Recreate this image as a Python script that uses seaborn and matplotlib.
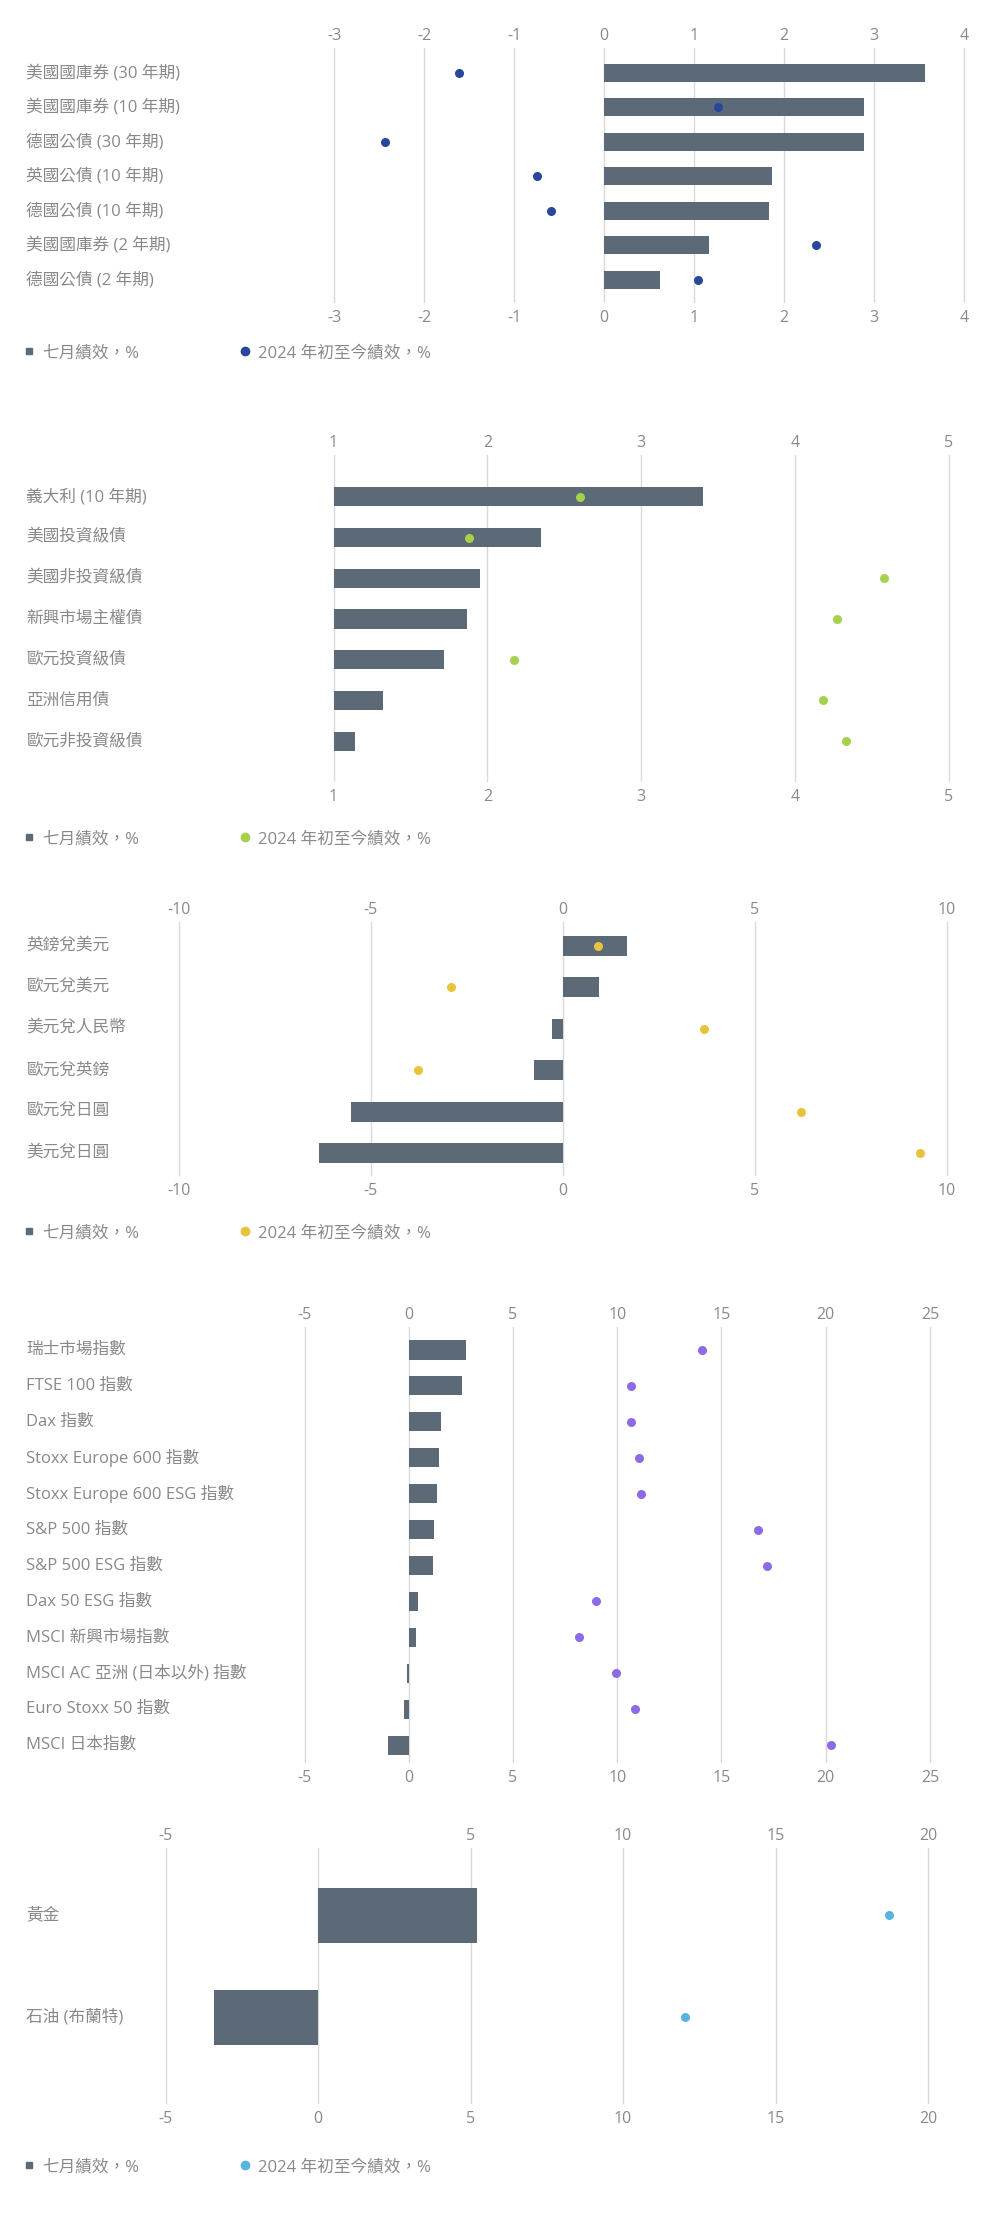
import matplotlib
matplotlib.use("Agg")
import matplotlib.pyplot as plt
from matplotlib.lines import Line2D
from matplotlib.transforms import blended_transform_factory
import seaborn as sns

# ─── Data ─────────────────────────────────────────────────────────────────────
gov_cats = ["美國國庫券 (30 年期)", "美國國庫券 (10 年期)", "德國公債 (30 年期)",
            "英國公債 (10 年期)", "德國公債 (10 年期)", "美國國庫券 (2 年期)",
            "德國公債 (2 年期)"]
gov_july = [3.57, 2.89, 2.89, 1.87, 1.83, 1.17, 0.62]
gov_ytd = [-1.61, 1.27, -2.43, -0.74, -0.59, 2.35, 1.04]
gov_ticks = [-3, -2, -1, 0, 1, 2, 3, 4]

credit_cats = ["義大利 (10 年期)", "美國投資級債", "美國非投資級債", "新興市場主權債",
               "歐元投資級債", "亞洲信用債", "歐元非投資級債"]
credit_july = [3.40, 2.35, 1.95, 1.87, 1.72, 1.32, 1.14]
credit_ytd = [2.60, 1.88, 4.58, 4.27, 2.17, 4.18, 4.33]
credit_ticks = [1, 2, 3, 4, 5]

fx_cats = ["英鎊兌美元", "歐元兌美元", "美元兌人民幣", "歐元兌英鎊", "歐元兌日圓", "美元兌日圓"]
fx_july = [1.66, 0.94, -0.28, -0.75, -5.52, -6.35]
fx_ytd = [0.91, -2.92, 3.68, -3.78, 6.21, 9.30]
fx_ticks = [-10, -5, 0, 5, 10]

eq_cats = ["瑞士市場指數", "FTSE 100 指數", "Dax 指數", "Stoxx Europe 600 指數",
           "Stoxx Europe 600 ESG 指數", "S&P 500 指數", "S&P 500 ESG 指數",
           "Dax 50 ESG 指數", "MSCI 新興市場指數", "MSCI AC 亞洲 (日本以外) 指數",
           "Euro Stoxx 50 指數", "MSCI 日本指數"]
eq_july = [2.75, 2.54, 1.53, 1.44, 1.34, 1.22, 1.16, 0.43, 0.37, -0.06, -0.25, -0.98]
eq_ytd = [14.05, 10.66, 10.66, 11.06, 11.12, 16.77, 17.17, 8.98, 8.16, 9.93, 10.85, 20.26]
eq_ticks = [-5, 0, 5, 10, 15, 20, 25]

cmd_cats = ["黃金", "石油 (布蘭特)"]
cmd_july = [5.21, -3.40]
cmd_ytd = [18.73, 12.04]
cmd_ticks = [-5, 0, 5, 10, 15, 20]
cmd_top_labels = ["-5", "", "5", "10", "15", "20"]

legend_labels = ["七月績效，%", "2024 年初至今績效，%"]

# ─── Style ────────────────────────────────────────────────────────────────────
sns.set_style("white")
plt.rcParams["font.family"] = ["Open Sans", "Noto Sans CJK TC", "DejaVu Sans"]
plt.rcParams["axes.unicode_minus"] = False

BAR = "#5b6a76"
TXT = "#898989"
GRID = "#d9d9d9"
W, H = 1000, 2213

fig = plt.figure(figsize=(W / 100, H / 100), dpi=100)


def panel(box, cats, july, ytd, ticks, dot_color, ylim, bar_w, top_labels=None, legend_y=None):
    l, t, r, b = box
    ax = fig.add_axes([l / W, 1 - b / H, (r - l) / W, (b - t) / H])
    sns.barplot(x=july, y=cats, orient="h", color=BAR, saturation=1,
                width=bar_w, errorbar=None, linewidth=0, ax=ax)
    sns.stripplot(x=ytd, y=cats, orient="h", jitter=False, color=dot_color,
                  size=6.5, linewidth=0, zorder=3, ax=ax)
    ax.set_xlim(ticks[0], ticks[-1])
    ax.set_ylim(*ylim)
    labels = [str(v) for v in ticks]
    ax.set_xticks(ticks, labels)
    ax.set_yticks([])
    ax.set_xlabel("")
    ax.set_ylabel("")
    ax.grid(axis="x", color=GRID, linewidth=1)
    ax.grid(axis="y", visible=False)
    for gl in ax.get_xgridlines():
        gl.set_clip_on(False)
    ax.set_axisbelow(True)
    sns.despine(ax=ax, left=True, bottom=True)
    ax.tick_params(axis="x", length=0, pad=6, labelsize=11.5, labelcolor=TXT)

    sec = ax.secondary_xaxis("top")
    sec.set_xticks(ticks, top_labels if top_labels else labels)
    sec.tick_params(length=0, pad=3, labelsize=11.5, labelcolor=TXT)
    for s in sec.spines.values():
        s.set_visible(False)

    trans = blended_transform_factory(fig.transFigure, ax.transData)
    for i, c in enumerate(cats):
        ax.text(26 / W, i, c, transform=trans, ha="left", va="center",
                fontsize=12, color=TXT)

    if legend_y is not None:
        sq = Line2D([], [], marker="s", ls="", color=BAR, markersize=5)
        dot = Line2D([], [], marker="o", ls="", color=dot_color, markersize=6)
        for h, lab, x0 in [(sq, legend_labels[0], 24), (dot, legend_labels[1], 240)]:
            fig.legend(handles=[h], labels=[lab], loc="center left",
                       bbox_to_anchor=(x0 / W, 1 - legend_y / H), frameon=False,
                       borderaxespad=0, borderpad=0, handlelength=0.55,
                       handletextpad=0.55, fontsize=12, labelcolor=TXT)
    return ax


panel((334, 48, 964, 302), gov_cats, gov_july, gov_ytd, gov_ticks, "#28479b",
      (6.64, -0.72), 0.52, legend_y=353)
panel((333.5, 455, 949, 781), credit_cats, credit_july, credit_ytd, credit_ticks, "#a6d24b",
      (6.98, -1.03), 0.47, legend_y=839)
panel((179, 922, 947, 1175), fx_cats, fx_july, fx_ytd, fx_ticks, "#e8c33c",
      (5.53, -0.58), 0.48, legend_y=1233)
panel((304.5, 1327, 930, 1762), eq_cats, eq_july, eq_ytd, eq_ticks, "#8d6be6",
      (11.47, -0.64), 0.53)
panel((165.5, 1848, 928, 2103), cmd_cats, cmd_july, cmd_ytd, cmd_ticks, "#59b3df",
      (1.84, -0.66), 0.54, top_labels=cmd_top_labels, legend_y=2167)

fig.savefig("out.png", dpi=100, facecolor="white")
